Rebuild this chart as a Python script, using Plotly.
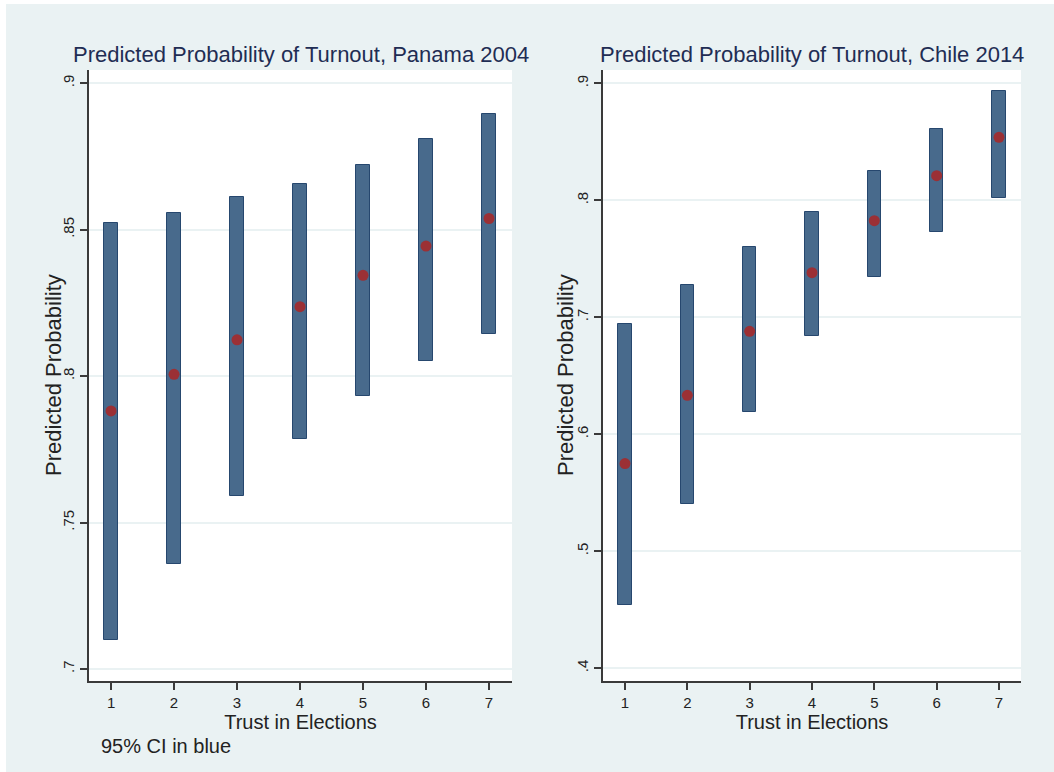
import plotly.graph_objects as go

# ---- data ----
trust = [1, 2, 3, 4, 5, 6, 7]
tick_text = ["1", "2", "3", "4", "5", "6", "7"]

panama_pred = [0.7881, 0.8006, 0.8124, 0.8237, 0.8344, 0.8444, 0.8538]
panama_lo = [0.7099, 0.7357, 0.7592, 0.7784, 0.7932, 0.8053, 0.8142]
panama_hi = [0.8524, 0.8557, 0.8610, 0.8657, 0.8719, 0.8808, 0.8894]

chile_pred = [0.5749, 0.6333, 0.6880, 0.7381, 0.7826, 0.8210, 0.8538]
chile_lo = [0.4541, 0.5404, 0.6191, 0.6843, 0.7342, 0.7727, 0.8020]
chile_hi = [0.6945, 0.7279, 0.7601, 0.7903, 0.8248, 0.8612, 0.8937]

panama_yticks = [0.7, 0.75, 0.8, 0.85, 0.9]
panama_ylabels = [".7", ".75", ".8", ".85", ".9"]
chile_yticks = [0.4, 0.5, 0.6, 0.7, 0.8, 0.9]
chile_ylabels = [".4", ".5", ".6", ".7", ".8", ".9"]

title_left = "Predicted Probability of Turnout, Panama 2004"
title_right = "Predicted Probability of Turnout, Chile 2014"
xtitle = "Trust in Elections"
ytitle = "Predicted Probability"
note = "95% CI in blue"

# ---- style ----
W, H = 1054, 772
BG = "#EAF2F3"
BAR = "#486A8C"
BAR_LINE = "#26476E"
DOT = "#9B3035"
TXT = "#1f2d54"
FONT = "Liberation Sans, Arial, Helvetica, sans-serif"

def px_x(p):
    return p / W

def px_y(p):
    return 1 - p / H

fig = go.Figure()

for xa, ya, lo, hi, pred in [("x", "y", panama_lo, panama_hi, panama_pred),
                             ("x2", "y2", chile_lo, chile_hi, chile_pred)]:
    fig.add_trace(go.Bar(
        x=trust, y=[h - l for h, l in zip(hi, lo)], base=lo, width=0.21,
        marker=dict(color=BAR, line=dict(color=BAR_LINE, width=1)),
        xaxis=xa, yaxis=ya, showlegend=False, hoverinfo="skip"))
    fig.add_trace(go.Scatter(
        x=trust, y=pred, mode="markers",
        marker=dict(color=DOT, size=11, line=dict(width=0)),
        xaxis=xa, yaxis=ya, showlegend=False))

ydom = [px_y(681), px_y(70)]

axis_common = dict(
    showline=True, linecolor="#3a3a3a", linewidth=1.5, mirror=False,
    ticks="outside", ticklen=7, tickwidth=1.5, tickcolor="#3a3a3a",
    tickfont=dict(family=FONT, size=15, color="#222222"),
    zeroline=False,
)

fig.update_layout(
    width=W, height=H,
    margin=dict(l=0, r=0, t=0, b=0),
    paper_bgcolor=BG, plot_bgcolor="white",
    font=dict(family=FONT, color="#222222"),
    bargap=0,
    xaxis=dict(domain=[px_x(89), px_x(512)], range=[0.65, 7.365], anchor="y",
               tickvals=trust, ticktext=tick_text, showgrid=False,
               title=dict(text=xtitle, font=dict(size=20, color="#222222"), standoff=1),
               **axis_common),
    yaxis=dict(domain=ydom, range=[0.6959, 0.9045], anchor="x",
               tickvals=panama_yticks, ticktext=panama_ylabels, tickangle=-90,
               showgrid=True, gridcolor=BG, gridwidth=1.5,
               **axis_common),
    xaxis2=dict(domain=[px_x(603), px_x(1021)], range=[0.647, 7.353], anchor="y2",
                tickvals=trust, ticktext=tick_text, showgrid=False,
                title=dict(text=xtitle, font=dict(size=20, color="#222222"), standoff=1),
                **axis_common),
    yaxis2=dict(domain=ydom, range=[0.389, 0.9114], anchor="x2",
                tickvals=chile_yticks, ticktext=chile_ylabels, tickangle=-90,
                showgrid=True, gridcolor=BG, gridwidth=1.5,
                **axis_common),
    annotations=[
        dict(text=title_left, x=px_x(300.5), y=px_y(54), xref="paper", yref="paper",
             xanchor="center", yanchor="middle", showarrow=False,
             font=dict(size=22, color=TXT, family=FONT)),
        dict(text=title_right, x=px_x(812), y=px_y(54), xref="paper", yref="paper",
             xanchor="center", yanchor="middle", showarrow=False,
             font=dict(size=22, color=TXT, family=FONT)),
        dict(text=ytitle, x=px_x(54), y=px_y(375), xref="paper", yref="paper",
             xanchor="center", yanchor="middle", showarrow=False, textangle=-90,
             font=dict(size=22, color="#222222", family=FONT)),
        dict(text=ytitle, x=px_x(566), y=px_y(375), xref="paper", yref="paper",
             xanchor="center", yanchor="middle", showarrow=False, textangle=-90,
             font=dict(size=22, color="#222222", family=FONT)),
        dict(text=note, x=px_x(99), y=px_y(746), xref="paper", yref="paper",
             xanchor="left", yanchor="middle", showarrow=False,
             font=dict(size=20, color="#222222", family=FONT)),
    ],
    shapes=[
        dict(type="rect", xref="paper", yref="paper", x0=0, x1=1, y0=px_y(4), y1=1,
             fillcolor="white", line=dict(width=0), layer="below"),
        dict(type="rect", xref="paper", yref="paper", x0=0, x1=px_x(6), y0=0, y1=1,
             fillcolor="white", line=dict(width=0), layer="below"),
    ],
)

fig.write_html("out.html")
